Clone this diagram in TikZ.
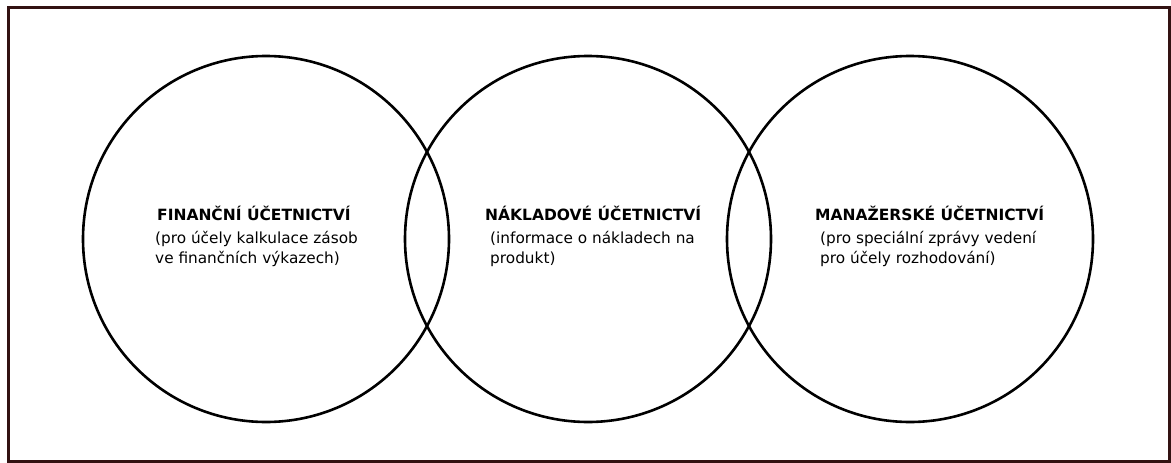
\documentclass[tikz,border=0pt]{standalone}
\usepackage{fontspec}
\setmainfont{DejaVu Sans}
\definecolor{framecol}{RGB}{50,18,18}
\begin{document}
\begin{tikzpicture}[x=1pt,y=-1pt,
  ring/.style={circle,draw=black,line width=2.6pt,minimum size=366pt,inner sep=0pt},
  headtxt/.style={anchor=base west,inner sep=0pt,font=\fontsize{15.5}{18}\selectfont\bfseries},
  bodytxt/.style={anchor=base west,inner sep=0pt,font=\fontsize{15.3}{18}\selectfont}]
\useasboundingbox (0,0) rectangle (1171,463);
\draw[framecol,line width=3pt] (8.5,7.5) rectangle (1169.5,461);
\node[ring] (fin) at (266,239) {};
\node[ring] (nak) at (588,239) {};
\node[ring] (man) at (910,239) {};
\node[headtxt] (fint) at (157,220) {FINANČNÍ ÚČETNICTVÍ};
\node[bodytxt] (fina) at (155,243) {(pro účely kalkulace zásob};
\node[bodytxt] (finb) at (155,263) {ve finančních výkazech)};
\node[headtxt] (nakt) at (485,220) {NÁKLADOVÉ ÚČETNICTVÍ};
\node[bodytxt] (naka) at (490,243) {(informace o nákladech na};
\node[bodytxt] (nakb) at (490,263) {produkt)};
\node[headtxt] (mant) at (815,220) {MANAŽERSKÉ ÚČETNICTVÍ};
\node[bodytxt] (mana) at (820,243) {(pro speciální zprávy vedení};
\node[bodytxt] (manb) at (820,263) {pro účely rozhodování)};
\end{tikzpicture}
\end{document}
